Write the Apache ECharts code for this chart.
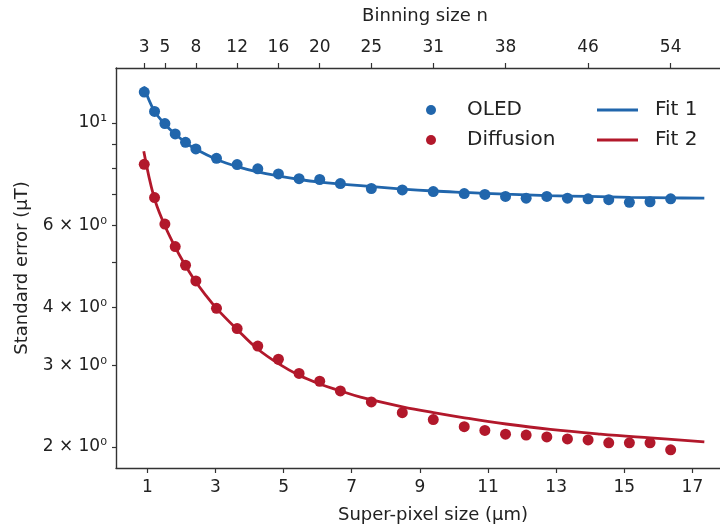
<!DOCTYPE html>
<html>
<head>
<meta charset="utf-8">
<script src="https://cdn.jsdelivr.net/npm/echarts@6/dist/echarts.min.js"></script>
<style>
  html, body { margin: 0; padding: 0; background: #fff; }
  #chart { width: 720px; height: 529px; }
</style>
</head>
<body>
<div id="chart"></div>
<script>
// super-pixel size = binning n * camera pixel pitch (um)
const PITCH = 0.303;
const binning = [3, 4, 5, 6, 7, 8, 10, 12, 14, 16, 18, 20, 22, 25, 28, 31, 34, 36, 38, 40, 42, 44, 46, 48, 50, 52, 54];
const oled = [11.66, 10.59, 9.97, 9.47, 9.08, 8.79, 8.39, 8.13, 7.96, 7.76, 7.58, 7.55, 7.40, 7.22, 7.17, 7.11, 7.04, 7.01, 6.94, 6.88, 6.94, 6.88, 6.86, 6.83, 6.74, 6.76, 6.86];
const diffusion = [8.14, 6.90, 6.05, 5.41, 4.93, 4.56, 3.98, 3.60, 3.30, 3.09, 2.88, 2.77, 2.64, 2.50, 2.37, 2.29, 2.21, 2.17, 2.13, 2.12, 2.10, 2.08, 2.07, 2.04, 2.04, 2.04, 1.97];

// fitted curves
const fit1X = [0.895, 1.20, 1.51, 1.83, 2.14, 2.44, 3.04, 3.64, 4.24, 4.86, 5.47, 6.08, 6.67, 7.26, 8.49, 9.40, 10.31, 11.51, 12.75, 13.95, 15.18, 16.38, 17.35];
const fit1 = [11.99, 10.63, 9.95, 9.44, 9.06, 8.76, 8.34, 8.05, 7.84, 7.68, 7.55, 7.45, 7.38, 7.32, 7.20, 7.13, 7.08, 7.02, 6.97, 6.94, 6.91, 6.89, 6.88];
const fit2X = [0.895, 1.19, 1.48, 1.78, 2.07, 2.36, 2.71, 3.03, 3.64, 4.22, 4.86, 5.47, 6.08, 6.67, 7.26, 8.49, 9.40, 10.31, 11.53, 12.83, 14.30, 15.77, 17.35];
const fit2 = [8.69, 6.94, 6.08, 5.46, 4.99, 4.61, 4.25, 3.98, 3.58, 3.26, 3.02, 2.85, 2.73, 2.64, 2.56, 2.44, 2.37, 2.31, 2.24, 2.18, 2.13, 2.09, 2.05];

// axis ticks
const xTicks = [1, 3, 5, 7, 9, 11, 13, 15, 17];
const topTicks = [3, 5, 8, 12, 16, 20, 25, 31, 38, 46, 54];
const yLabelTicks = [2, 3, 4, 6, 10];
const yMinorTicks = [2, 3, 4, 5, 6, 7, 8, 9, 10];

const BLUE = '#2166ac';
const RED = '#b2182b';
const FONT = 'DejaVu Sans';
const AXIS = '#333';

const superPixel = binning.map(n => n * PITCH);
const zip = (xs, ys) => xs.map((x, i) => [x, ys[i]]);

const sup = ['\u2070', '\u00b9'];
function logLabel(v) {
  const k = Math.floor(Math.log10(v) + 1e-9);
  const m = Math.round(v / Math.pow(10, k));
  return m === 1 ? '10' + sup[k] : m + ' \u00d7 10' + sup[k];
}

const chart = echarts.init(document.getElementById('chart'), null, { renderer: 'canvas' });

const axisLine = { show: true, lineStyle: { color: AXIS, width: 1.4 } };
const label = { color: '#222', fontFamily: FONT, fontSize: 17 };
const X_MIN = 0.08, X_MAX = 17.81;  // right spine is cut off at the picture edge

chart.setOption({
  animation: false,
  backgroundColor: '#fff',
  grid: { left: 116, top: 68, right: 0, height: 401, containLabel: false },
  xAxis: [
    {
      type: 'value', position: 'bottom', min: X_MIN, max: X_MAX,
      axisLine: axisLine,
      axisTick: { show: true, length: 5, lineStyle: { color: AXIS, width: 1.2 }, customValues: xTicks },
      axisLabel: Object.assign({ margin: 11, customValues: xTicks }, label),
      splitLine: { show: false },
      name: 'Super-pixel size (\u03bcm)', nameLocation: 'middle', nameGap: 38,
      nameTextStyle: { color: '#222', fontFamily: FONT, fontSize: 18, padding: [0, 0, 0, 30] }
    },
    {
      type: 'value', position: 'top', min: X_MIN, max: X_MAX,
      axisLine: axisLine,
      axisTick: { show: true, length: 5, lineStyle: { color: AXIS, width: 1.2 }, customValues: topTicks.map(n => n * PITCH) },
      axisLabel: Object.assign({ margin: 12, customValues: topTicks.map(n => n * PITCH),
        formatter: v => String(Math.round(v / PITCH)) }, label),
      splitLine: { show: false },
      name: 'Binning size n', nameLocation: 'middle', nameGap: 43,
      nameTextStyle: { color: '#222', fontFamily: FONT, fontSize: 18, padding: [0, 0, 0, 14] }
    }
  ],
  yAxis: {
    type: 'log', logBase: 10, min: 1.80, max: 13.14,
    axisLine: axisLine,
    axisTick: { show: true, length: 4, lineStyle: { color: AXIS, width: 1.2 }, customValues: yMinorTicks },
    axisLabel: Object.assign({ margin: 9, customValues: yLabelTicks, formatter: logLabel }, label),
    splitLine: { show: false },
    minorTick: { show: false },
    name: 'Standard error (\u03bcT)', nameLocation: 'middle', nameGap: 84,
    nameTextStyle: { color: '#222', fontFamily: FONT, fontSize: 18 }
  },
  legend: [
    {
      data: ['OLED', 'Diffusion'], orient: 'vertical', left: 421, top: 95,
      itemWidth: 10, itemHeight: 10, itemGap: 10,
      textStyle: { color: '#222', fontFamily: FONT, fontSize: 20, lineHeight: 20, padding: [0, 0, 0, 26] }
    },
    {
      data: [{ name: 'Fit 1', icon: 'rect' }, { name: 'Fit 2', icon: 'rect' }],
      orient: 'vertical', left: 592, top: 95,
      itemWidth: 41, itemHeight: 3, itemGap: 10,
      textStyle: { color: '#222', fontFamily: FONT, fontSize: 20, lineHeight: 20, padding: [0, 0, 0, 12] }
    }
  ],
  series: [
    {
      name: 'OLED', type: 'scatter', data: zip(superPixel, oled),
      symbol: 'circle', symbolSize: 11, itemStyle: { color: BLUE, opacity: 1 }, z: 2
    },
    {
      name: 'Diffusion', type: 'scatter', data: zip(superPixel, diffusion),
      symbol: 'circle', symbolSize: 11, itemStyle: { color: RED, opacity: 1 }, z: 2
    },
    {
      name: 'Fit 1', type: 'line', data: zip(fit1X, fit1), smooth: 0.4,
      showSymbol: false, symbol: 'none', lineStyle: { color: BLUE, width: 2.8 }, itemStyle: { color: BLUE }, z: 3
    },
    {
      name: 'Fit 2', type: 'line', data: zip(fit2X, fit2), smooth: 0.4,
      showSymbol: false, symbol: 'none', lineStyle: { color: RED, width: 2.8 }, itemStyle: { color: RED }, z: 3
    }
  ]
});
</script>
</body>
</html>
